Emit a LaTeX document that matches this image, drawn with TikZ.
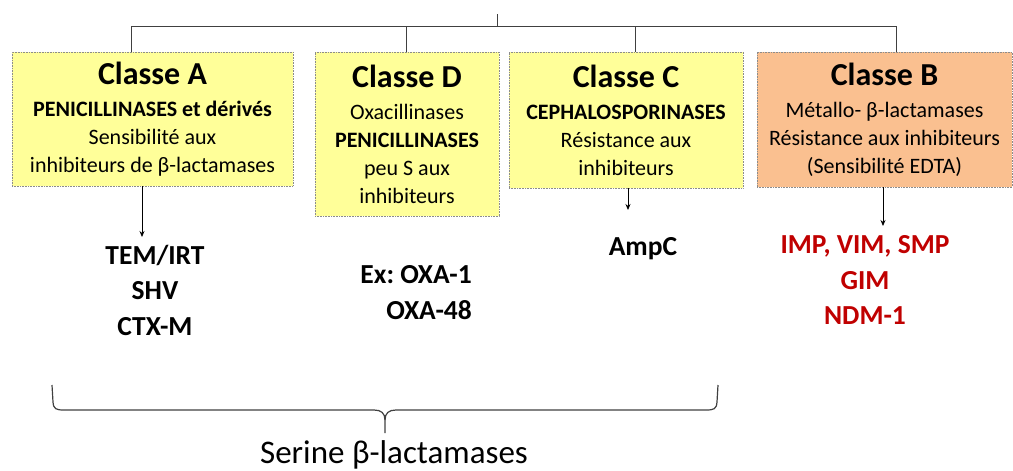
\documentclass[tikz,border=0pt]{standalone}
\usepackage{fontspec}
\setmainfont{Carlito}
\usetikzlibrary{arrows.meta}
\definecolor{boxyellow}{HTML}{FFFF99}
\definecolor{boxpeach}{HTML}{FAC090}
\definecolor{boxedge}{HTML}{8C8C8C}
\definecolor{linegray}{HTML}{404040}
\definecolor{mutred}{HTML}{C00000}
\frenchspacing
\begin{document}
\begin{tikzpicture}[x=1pt,y=-1pt,
  classbox/.style={draw=boxedge, densely dotted, line width=0.6pt, align=center,
    inner sep=0pt, font=\fontsize{22}{28}\selectfont},
  bus/.style={draw=linegray, line width=1pt},
  arr/.style={draw=black, line width=0.8pt, -{Stealth[length=6pt,width=5pt]}},
  mut/.style={align=center, inner sep=0pt, font=\fontsize{27.5}{35.5}\selectfont\bfseries},
]
\useasboundingbox (0,0) rectangle (1013,471);
\newcommand{\ttl}[1]{{\fontsize{32}{34}\selectfont\bfseries #1}}

\node[classbox, fill=boxyellow, minimum width=281pt, minimum height=134pt] (A) at (152.5,119)
  {\ttl{Classe A}\\[4pt]\textbf{PENICILLINASES et dérivés}\\Sensibilité aux\\inhibiteurs de β-lactamases};
\node[classbox, fill=boxyellow, minimum width=184pt, minimum height=164pt] (D) at (407,134)
  {\ttl{Classe D}\\[4pt]Oxacillinases\\\textbf{PENICILLINASES}\\peu S aux\\inhibiteurs};
\node[classbox, fill=boxyellow, minimum width=234pt, minimum height=136pt] (C) at (626,120)
  {\ttl{Classe C}\\[4pt]\textbf{CEPHALOSPORINASES}\\Résistance aux\\inhibiteurs};
\node[classbox, fill=boxpeach, minimum width=255pt, minimum height=135pt] (B) at (884.5,119.5)
  {\ttl{Classe B}\\[4pt]Métallo- β-lactamases\\Résistance aux inhibiteurs\\(Sensibilité EDTA)};

% hierarchy lines
\coordinate (top) at (497,14);
\coordinate (bus) at (497,27);
\draw[bus] (top) -- (bus);
\draw[bus] ([xshift=-21.5pt]A.north) -- ++(0,25pt) -| ([xshift=11.5pt]B.north);
\draw[bus] ([xshift=-1pt]D.north) -- ++(0,25pt);
\draw[bus] ([xshift=9pt]C.north) -- ++(0,25pt);

% mutant lists
\node[mut] (lA) at (155,290) {TEM/IRT\\SHV\\CTX-M};
\node[mut, align=right, anchor=east] (lD) at (472,292.5) {Ex: OXA-1\\OXA-48};
\node[mut] (lC) at (643,249) {AmpC};
\node[mut, text=mutred] (lB) at (865,280) {IMP, VIM, SMP\\GIM\\NDM-1};

% arrows
\coordinate (tA) at (142,237);
\coordinate (tC) at (628,210);
\coordinate (tB) at (883,226);
\draw[arr] (A.south -| tA) -- (tA);
\draw[arr] (C.south -| tC) -- (tC);
\draw[arr] (B.south -| tB) -- (tB);

% brace
\coordinate (bl) at (52,385);
\coordinate (br) at (718,385);
\coordinate (bm) at (385,433);
\draw[linegray, line width=1.2pt]
  (bl) -- (53,402) .. controls (53.5,409) and (56,410) .. (64,410)
  -- (374,410) .. controls (381,410) and (385,413) .. (385,420) -- (bm);
\draw[linegray, line width=1.2pt]
  (br) -- (717,402) .. controls (716.5,409) and (714,410) .. (706,410)
  -- (396,410) .. controls (389,410) and (385,413) .. (385,420);
\node[inner sep=0pt, anchor=base, font=\fontsize{33}{38}\selectfont] (serine) at (394,463) {Serine β-lactamases};
\end{tikzpicture}
\end{document}
